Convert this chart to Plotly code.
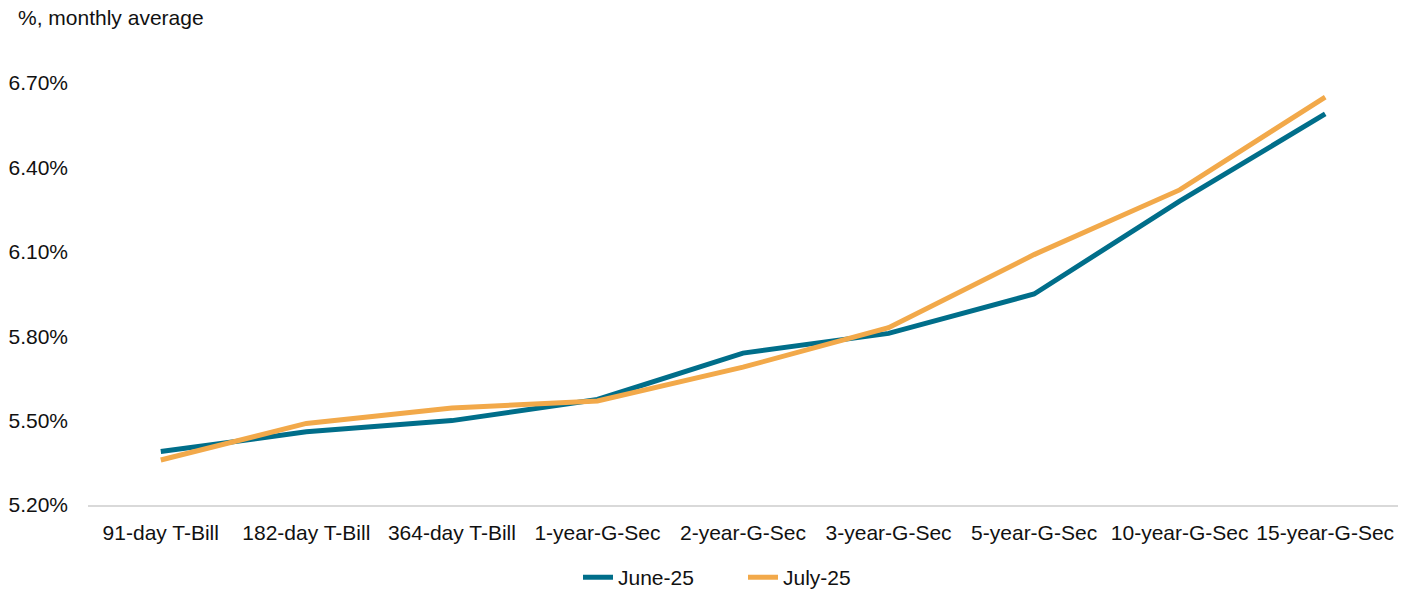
import plotly.graph_objects as go

categories = ["91-day T-Bill", "182-day T-Bill", "364-day T-Bill", "1-year-G-Sec",
              "2-year-G-Sec", "3-year-G-Sec", "5-year-G-Sec", "10-year-G-Sec", "15-year-G-Sec"]
june_25 = [5.39, 5.46, 5.50, 5.575, 5.74, 5.81, 5.95, 6.28, 6.59]
july_25 = [5.36, 5.49, 5.545, 5.57, 5.69, 5.83, 6.09, 6.32, 6.65]
y_ticks = [5.20, 5.50, 5.80, 6.10, 6.40, 6.70]
y_tick_labels = ["5.20%", "5.50%", "5.80%", "6.10%", "6.40%", "6.70%"]

FONT = "Liberation Sans, Arial, sans-serif"
W, H = 1414, 593
L, R, T, B = 88, 16, 83, 88

fig = go.Figure()
fig.add_trace(go.Scatter(x=categories, y=june_25, name="June-25", mode="lines",
                         line=dict(color="#006E8A", width=5)))
fig.add_trace(go.Scatter(x=categories, y=july_25, name="July-25", mode="lines",
                         line=dict(color="#F2A94A", width=5)))

fig.update_layout(
    width=W, height=H,
    margin=dict(l=L, r=R, t=T, b=B, autoexpand=False),
    paper_bgcolor="white", plot_bgcolor="white",
    font=dict(family=FONT, size=21, color="#111111"),
    showlegend=True,
    legend=dict(orientation="h", x=0.5, xanchor="center", y=-0.172, yanchor="middle",
                font=dict(size=21), entrywidth=120, entrywidthmode="pixels",
                tracegroupgap=0),
    annotations=[dict(text="%, monthly average", xref="paper", yref="paper",
                      x=(16 - L) / (W - L - R), y=(H - B - 17) / (H - T - B),
                      xanchor="left", yanchor="middle", showarrow=False,
                      font=dict(size=21))],
)
fig.update_xaxes(type="category", showgrid=False, showline=True, linecolor="#d9d9d9",
                 linewidth=2, ticks="", ticklabelstandoff=8, range=[-0.5, 8.5],
                 automargin=False)
fig.update_yaxes(range=[5.2, 6.7], tickvals=y_ticks, ticktext=y_tick_labels,
                 showgrid=False, zeroline=False, showline=False, ticks="",
                 ticklabelstandoff=19, automargin=False)

fig.write_html("out.html")
